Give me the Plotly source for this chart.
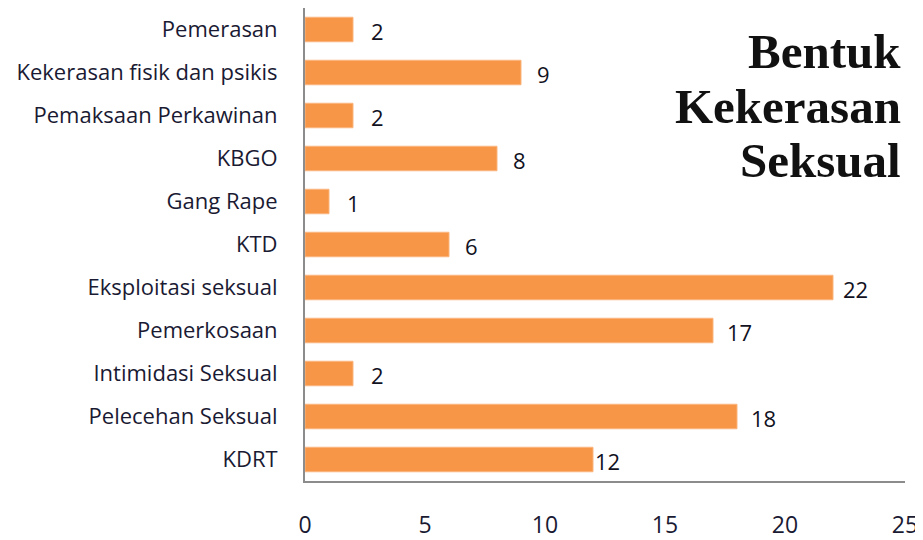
import plotly.graph_objects as go

categories = ["Pemerasan", "Kekerasan fisik dan psikis", "Pemaksaan Perkawinan", "KBGO",
              "Gang Rape", "KTD", "Eksploitasi seksual", "Pemerkosaan",
              "Intimidasi Seksual", "Pelecehan Seksual", "KDRT"]
values = [2, 9, 2, 8, 1, 6, 22, 17, 2, 18, 12]
tick_vals = [0, 5, 10, 15, 20, 25]
title_lines = ["Bentuk", "Kekerasan", "Seksual"]
label_shift = [16, 14, 16, 14, 16, 14, 8, 12, 16, 12, 0]

fig = go.Figure()
fig.add_trace(go.Bar(
    x=values, y=categories, orientation="h",
    marker=dict(color="#F79646", line=dict(color="#FBB57F", width=1)),
    width=0.57,
))

for c, v, s in zip(categories, values, label_shift):
    fig.add_annotation(x=v, y=c, text=str(v), showarrow=False, xanchor="left",
                       xshift=s, yshift=-1,
                       font=dict(family="Open Sans", size=22, color="#111122"))

title_y = [0.908, 0.792, 0.677]
for line, ty in zip(title_lines, title_y):
    fig.add_annotation(x=1, y=ty, xref="paper", yref="paper", xanchor="right",
                       yanchor="middle", text="<b>" + line + "</b>", showarrow=False,
                       xshift=-2, font=dict(family="Liberation Serif", size=49, color="#111111"))

fig.update_layout(
    width=915, height=532,
    margin=dict(l=297, r=18, t=0, b=52),
    plot_bgcolor="white", paper_bgcolor="white",
    showlegend=False,
    xaxis=dict(range=[0, 25], tickvals=tick_vals, showgrid=False, zeroline=False,
               showline=True, linecolor="#8c8c8c", linewidth=2,
               ticks="outside", ticklen=0, ticklabelstandoff=22,
               tickfont=dict(family="Open Sans", size=23, color="#1a1a33")),
    yaxis=dict(categoryorder="array", categoryarray=categories[::-1],
               range=[-0.5, 10.5], showgrid=False, zeroline=False,
               showline=True, linecolor="#8c8c8c", linewidth=2,
               ticks="outside", ticklen=0, ticklabelstandoff=21,
               tickfont=dict(family="Open Sans", size=22, color="#1a1a33")),
)

fig.write_html("out.html")
